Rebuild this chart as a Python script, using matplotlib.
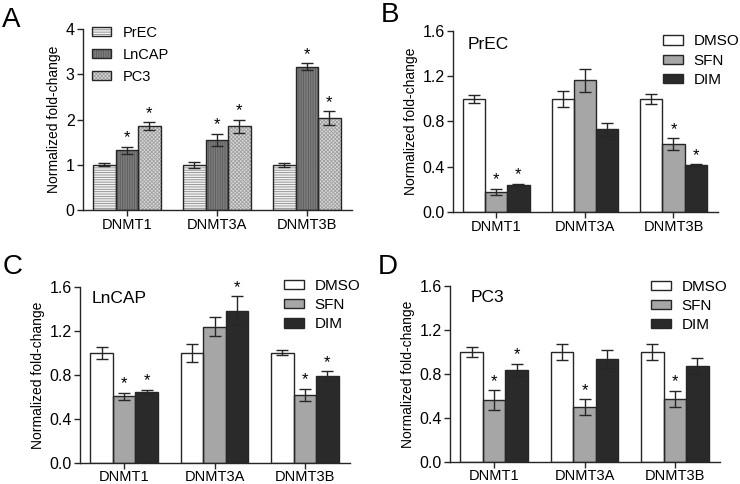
import numpy as np
import matplotlib.pyplot as plt
from matplotlib.patches import Patch
from matplotlib.legend_handler import HandlerTuple

plt.rcParams['font.family'] = ['Liberation Sans', 'DejaVu Sans']
plt.rcParams['hatch.linewidth'] = 0.6

genes = ['DNMT1', 'DNMT3A', 'DNMT3B']

# Panel A: baseline expression by cell line
a_lines = ['PrEC', 'LnCAP', 'PC3']
a_prec = [1.00, 1.00, 1.00]
a_prec_err = [0.03, 0.065, 0.04]
a_lncap = [1.32, 1.55, 3.17]
a_lncap_err = [0.08, 0.14, 0.07]
a_pc3 = [1.86, 1.85, 2.03]
a_pc3_err = [0.085, 0.14, 0.155]
a_stars = [[0, 0, 0], [1, 1, 1], [1, 1, 1]]

# Panels B-D: treatments
treatments = ['DMSO', 'SFN', 'DIM']

b_dmso = [1.0, 1.0, 1.0]
b_dmso_err = [0.038, 0.072, 0.044]
b_sfn = [0.176, 1.163, 0.60]
b_sfn_err = [0.03, 0.10, 0.053]
b_dim = [0.24, 0.73, 0.414]
b_dim_err = [0.01, 0.06, 0.006]
b_stars = [[0, 0, 0], [1, 0, 1], [1, 0, 1]]

c_dmso = [1.0, 1.0, 1.0]
c_dmso_err = [0.057, 0.085, 0.022]
c_sfn = [0.605, 1.24, 0.62]
c_sfn_err = [0.03, 0.088, 0.055]
c_dim = [0.644, 1.386, 0.793]
c_dim_err = [0.018, 0.131, 0.039]
c_stars = [[0, 0, 0], [1, 0, 1], [1, 1, 1]]

d_dmso = [1.0, 1.0, 1.0]
d_dmso_err = [0.042, 0.072, 0.073]
d_sfn = [0.56, 0.498, 0.575]
d_sfn_err = [0.09, 0.07, 0.072]
d_dim = [0.834, 0.936, 0.873]
d_dim_err = [0.057, 0.079, 0.072]
d_stars = [[0, 0, 0], [1, 1, 1], [1, 0, 0]]

EDGE = '#262626'
W = 0.25


def style_axis(ax, ymax, step, fmt):
    for s in ['top', 'right']:
        ax.spines[s].set_visible(False)
    for s in ['left', 'bottom']:
        ax.spines[s].set_color(EDGE)
        ax.spines[s].set_linewidth(1.0)
    ax.set_ylim(0, ymax)
    ax.set_xlim(-0.49, 2.5)
    ticks = np.arange(0, ymax + step / 2, step)
    ax.set_yticks(ticks)
    ax.set_yticklabels([fmt.format(t) for t in ticks])
    ax.set_xticks(range(len(genes)))
    ax.set_xticklabels(genes)
    ax.tick_params(axis='both', direction='out', length=4, width=1.0,
                   color=EDGE, pad=2)
    ax.tick_params(axis='x', labelsize=10.5, pad=1.5)
    ax.tick_params(axis='y', labelsize=11.5)
    ax.set_ylabel('Normalized fold-change', fontsize=10, labelpad=3)


def draw_group(ax, series, errs, stars, styles):
    x = np.arange(len(genes))
    handles = []
    for i, (vals, err, st, sty) in enumerate(zip(series, errs, stars, styles)):
        pos = x + (i - 1) * W
        face, hatch, hcol = sty
        ax.bar(pos, vals, W, color=face, hatch=hatch, edgecolor=hcol,
               linewidth=0, zorder=2)
        ax.bar(pos, vals, W, fill=False, edgecolor=EDGE, linewidth=1.0, zorder=3)
        ax.errorbar(pos, vals, yerr=err, fmt='none', ecolor=EDGE,
                    elinewidth=1.0, capsize=4.4, capthick=1.0, zorder=4)
        for p, v, e, s in zip(pos, vals, err, st):
            if s:
                ax.annotate('*', (p, v + e), xytext=(0, 1), textcoords='offset points',
                            ha='center', va='bottom', fontsize=12)
        h1 = Patch(facecolor=face, hatch=hatch, edgecolor=hcol, linewidth=0)
        h2 = Patch(fill=False, edgecolor=EDGE, linewidth=1.0)
        handles.append((h1, h2))
    return handles


fig = plt.figure(figsize=(7.4, 4.84), dpi=100)

axA = fig.add_axes([0.112, 0.566, 0.3635, 0.374])
axB = fig.add_axes([0.612, 0.562, 0.358, 0.374])
axC = fig.add_axes([0.108, 0.044, 0.365, 0.363])
axD = fig.add_axes([0.608, 0.046, 0.365, 0.363])

a_styles = [('#f2f2f2', '-------', '#8a8a8a'),
            ('#7c7c7c', '|||||||', '#5c5c5c'),
            ('#dadada', 'xxxxxxxxx', '#a0a0a0')]
t_styles = [('white', None, 'white'),
            ('#a6a6a6', None, '#a6a6a6'),
            ('#2a2a2a', None, '#2a2a2a')]

style_axis(axA, 4, 1, '{:.0f}')
hA = draw_group(axA, [a_prec, a_lncap, a_pc3], [a_prec_err, a_lncap_err, a_pc3_err],
                a_stars, a_styles)
axA.legend(hA, a_lines, handler_map={tuple: HandlerTuple(ndivide=1)},
           loc='upper left', bbox_to_anchor=(-0.015, 1.09), frameon=False,
           fontsize=10.5, handlelength=1.3, handleheight=0.55, labelspacing=0.55,
           handletextpad=0.8)

panels = [
    (axB, 'PrEC', [b_dmso, b_sfn, b_dim], [b_dmso_err, b_sfn_err, b_dim_err], b_stars,
     (0.742, 1.057), (0.055, 0.965)),
    (axC, 'LnCAP', [c_dmso, c_sfn, c_dim], [c_dmso_err, c_sfn_err, c_dim_err], c_stars,
     (0.704, 1.125), (0.045, 0.975)),
    (axD, 'PC3', [d_dmso, d_sfn, d_dim], [d_dmso_err, d_sfn_err, d_dim_err], d_stars,
     (0.693, 1.115), (0.075, 0.975)),
]
for ax, title, series, errs, stars, leg_pos, title_pos in panels:
    style_axis(ax, 1.6, 0.4, '{:.1f}')
    h = draw_group(ax, series, errs, stars, t_styles)
    ax.legend(h, treatments, handler_map={tuple: HandlerTuple(ndivide=1)},
              loc='upper left', bbox_to_anchor=leg_pos, frameon=False,
              fontsize=11, handlelength=1.3, handleheight=0.55, labelspacing=0.35,
              handletextpad=0.7)
    ax.text(title_pos[0], title_pos[1], title, transform=ax.transAxes,
            ha='left', va='top', fontsize=12.5)

for lbl, x, y in [('A', 0.003, 0.985), ('B', 0.515, 0.995), ('C', 0.003, 0.475), ('D', 0.51, 0.475)]:
    fig.text(x, y, lbl, fontsize=20, ha='left', va='top')

fig.savefig('out.png', dpi=100)
